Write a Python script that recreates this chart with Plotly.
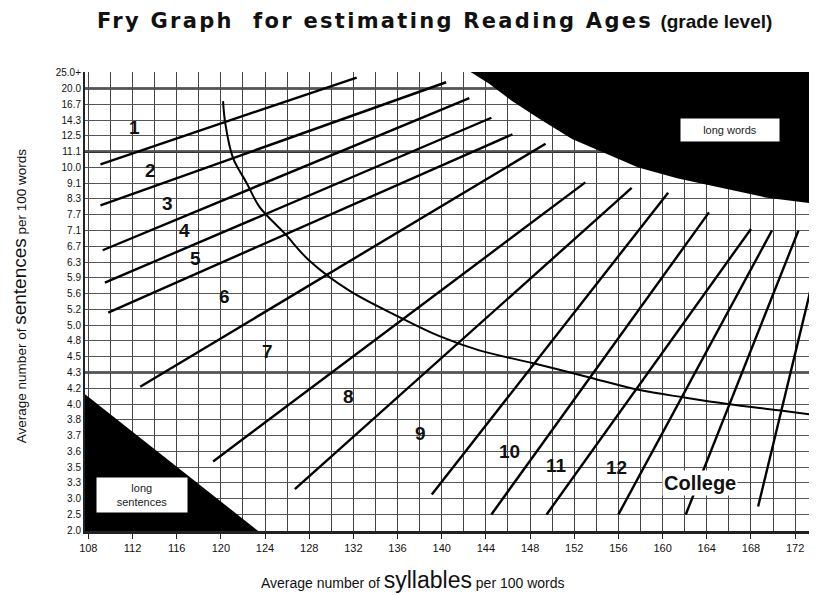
import plotly.graph_objects as go

# ---- axis data ----
x_ticks = list(range(108, 173, 4))
y_labels = ["2.0", "2.5", "3.0", "3.3", "3.5", "3.6", "3.7", "3.8", "4.0", "4.2",
            "4.3", "4.5", "4.8", "5.0", "5.2", "5.6", "5.9", "6.3", "6.7", "7.1",
            "7.7", "8.3", "9.1", "10.0", "11.1", "12.5", "14.3", "16.7", "20.0", "25.0+"]
y_pos = list(range(len(y_labels)))

# ---- grade lines (syllables, sentence-row index) ----
grade_names = ["1", "2", "3", "4", "5", "6", "7", "8", "9", "10", "11", "12", "College", "College+"]
grade_x0 = [109.1, 109.1, 109.3, 109.5, 109.8, 112.7, 119.3, 126.7, 139.1, 144.5, 149.5, 156.0, 162.1, 168.65]
grade_y0 = [23.2, 20.6, 17.75, 15.7, 13.8, 9.1, 4.36, 2.6, 2.27, 1.0, 1.0, 1.0, 1.0, 1.5]
grade_x1 = [132.3, 140.4, 142.5, 144.5, 146.4, 149.4, 153.0, 157.2, 160.5, 164.2, 168.0, 169.9, 172.3, 174.7]
grade_y1 = [28.7, 28.4, 27.4, 26.15, 25.1, 24.5, 22.05, 21.7, 21.4, 20.15, 19.1, 19.0, 19.0, 19.0]

# ---- grade labels ----
label_text = ["1", "2", "3", "4", "5", "6", "7", "8", "9", "10", "11", "12", "College"]
label_x = [112.2, 113.6, 115.2, 116.7, 117.75, 120.3, 124.2, 131.6, 138.1, 146.1, 150.4, 155.8, 163.4]
label_y = [25.5, 22.8, 20.7, 19.0, 17.2, 14.8, 11.3, 8.5, 6.1, 5.0, 4.1, 4.0, 3.0]

# ---- dividing curve ----
curve_x = [120.2, 120.4, 121.1, 122.35, 123.5, 125.8, 128.0, 131.6, 136.2, 139.8, 143.4,
           148.2, 153.3, 157.8, 162.1, 165.9, 170.5, 173.8]
curve_y = [27.2, 25.8, 23.6, 22.0, 20.5, 18.8, 17.1, 15.2, 13.5, 12.3, 11.4,
           10.6, 9.7, 8.9, 8.4, 8.0, 7.6, 7.3]

# ---- long words region boundary ----
lw_x = [142.5, 144.3, 146.4, 148.8, 151.8, 154.8, 157.8, 161.4, 165.3, 169.3, 173.8, 174.5, 174.5]
lw_y = [29.1, 28.3, 27.2, 26.1, 24.8, 23.9, 23.0, 22.3, 21.7, 21.1, 20.7, 20.7, 29.5]

# ---- long sentences triangle ----
ls_x = [107.0, 107.0, 124.2]
ls_y = [9.0, -0.5, -0.5]

fig = go.Figure()

fig.add_trace(go.Scatter(x=ls_x + [ls_x[0]], y=ls_y + [ls_y[0]], fill="toself",
                         fillcolor="black", line=dict(width=0), mode="lines",
                         hoverinfo="skip", showlegend=False))
fig.add_trace(go.Scatter(x=lw_x + [lw_x[0]], y=lw_y + [lw_y[0]], fill="toself",
                         fillcolor="black", line=dict(width=0), mode="lines",
                         hoverinfo="skip", showlegend=False))

for i, name in enumerate(grade_names):
    fig.add_trace(go.Scatter(x=[grade_x0[i], grade_x1[i]], y=[grade_y0[i], grade_y1[i]],
                             mode="lines", line=dict(color="black", width=2.4),
                             name=name, showlegend=False))

fig.add_trace(go.Scatter(x=curve_x, y=curve_y, mode="lines",
                         line=dict(color="black", width=2, shape="spline"),
                         showlegend=False))

# thicker horizontal rows
for yy in [28, 24, 10]:
    fig.add_shape(type="line", xref="paper", x0=0, x1=1, y0=yy, y1=yy,
                  line=dict(color="#333", width=2.6), layer="below")

for t, xx, yy in zip(label_text, label_x, label_y):
    fig.add_annotation(x=xx, y=yy, text="<b>%s</b>" % t, showarrow=False,
                       xanchor="center", yanchor="middle",
                       font=dict(family="Arial", size=20 if t == "College" else 19, color="#111"),
                       bgcolor="white" if t == "College" else None)

PW, PH = 732.0, 459.0


def px(xp):
    return (xp - 85) / PW


def py(yp):
    return (531 - yp) / PH


fig.add_annotation(x=px(732), y=py(130), xref="paper", yref="paper", xanchor="center", yanchor="middle",
                   text="long words", showarrow=False, bgcolor="white", borderpad=5,
                   width=88, font=dict(family="Arial", size=11, color="#222"))
fig.add_annotation(x=px(142), y=py(495), xref="paper", yref="paper", xanchor="center", yanchor="middle",
                   text="long<br>sentences", showarrow=False, bgcolor="white", borderpad=4,
                   width=82, align="center", font=dict(family="Arial", size=11, color="#222"))

# axis titles
fig.add_annotation(x=px(19), y=py(296), xref="paper", yref="paper", textangle=-90,
                   xanchor="center", yanchor="middle",
                   text="Average number of <span style='font-size:19px'>sentences</span> per 100 words",
                   showarrow=False, font=dict(family="Arial", size=13.5, color="#111"))
fig.add_annotation(x=px(414), y=py(580), xref="paper", yref="paper", xanchor="center", yanchor="middle",
                   text="Average number of <span style='font-size:23px'>syllables</span> per 100 words",
                   showarrow=False, font=dict(family="Arial", size=14, color="#111"))

fig.add_annotation(x=px(435), y=py(21), xref="paper", yref="paper", xanchor="center", yanchor="middle",
                   text="<b><span style='letter-spacing:2.3px'>Fry Graph  for estimating Reading Ages</span> "
                        "<span style='font-family:Arial; font-size:19px'>(grade level)</span></b>",
                   showarrow=False, font=dict(family="DejaVu Sans", size=21, color="#111"))

fig.update_layout(
    width=817, height=595,
    margin=dict(l=77, r=8, t=64, b=72),
    plot_bgcolor="white", paper_bgcolor="white",
    xaxis=dict(range=[107.7, 173.8], tickvals=x_ticks, ticks="outside", ticklen=5,
               tickcolor="#222", showgrid=True, gridcolor="#444", gridwidth=1.4,
               minor=dict(dtick=2, tick0=108, showgrid=True, gridcolor="#444", gridwidth=1.4),
               showline=True, linecolor="#222", linewidth=2.5, zeroline=False,
               tickfont=dict(family="Arial", size=11, color="#111")),
    yaxis=dict(range=[-0.05, 29.05], tickvals=y_pos, ticktext=y_labels, showgrid=True,
               gridcolor="#555", gridwidth=1.4, showline=True, linecolor="#222", linewidth=2,
               mirror=True, zeroline=False, ticks="", ticklen=0,
               tickfont=dict(family="Arial", size=10, color="#111")),
)

fig.write_html("out.html")
